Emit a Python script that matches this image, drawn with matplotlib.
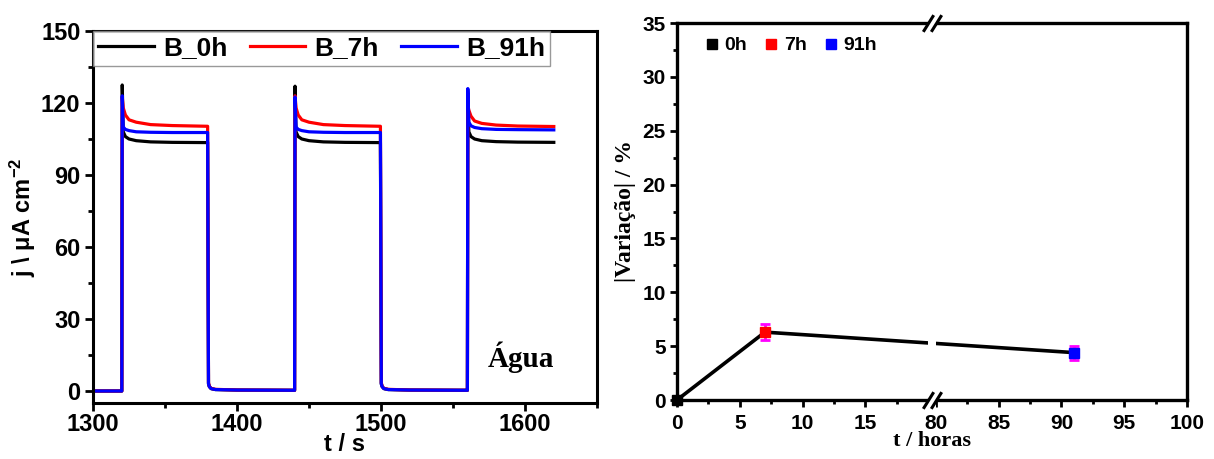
import numpy as np
import matplotlib
matplotlib.use("Agg")
import matplotlib.pyplot as plt
from matplotlib.ticker import MultipleLocator, FixedLocator

plt.rcParams['font.family'] = ['Liberation Sans', 'DejaVu Sans']
plt.rcParams['font.weight'] = 'bold'
plt.rcParams['mathtext.fontset'] = 'custom'
plt.rcParams['mathtext.rm'] = 'Liberation Sans:bold'
plt.rcParams['mathtext.bf'] = 'Liberation Sans:bold'
plt.rcParams['mathtext.default'] = 'bf'

# ---------------- data: left panel (chronoamperometry) ----------------
time_s = [1300, 1319.6, 1320.0, 1320.3, 1321.0, 1322.5, 1325, 1330, 1340, 1355, 1379.6,
          1380.2, 1380.8, 1382, 1385, 1400, 1439.6,
          1440.0, 1440.3, 1441.0, 1442.5, 1445, 1450, 1460, 1475, 1499.6,
          1500.2, 1500.8, 1502, 1505, 1520, 1559.6,
          1560.0, 1560.3, 1561.0, 1562.5, 1565, 1570, 1580, 1595, 1620]
j_B_0h = [0.0, 0.0, 0.0, 127.5, 108, 106, 105, 104.3, 103.8, 103.6, 103.5,
          3.0, 1.8, 1.0, 0.6, 0.4, 0.3,
          0.3, 127, 108, 106, 105, 104.3, 103.8, 103.6, 103.5,
          3.0, 1.8, 1.0, 0.6, 0.4, 0.3,
          0.3, 123, 108, 106, 105, 104.3, 103.9, 103.7, 103.6]
j_B_7h = [0.0, 0.0, 0.0, 122.5, 118, 115, 113, 112, 111, 110.6, 110.3,
          3.5, 2.0, 1.1, 0.7, 0.4, 0.3,
          0.3, 123, 118, 115, 113, 112, 111, 110.6, 110.3,
          3.5, 2.0, 1.1, 0.7, 0.4, 0.3,
          0.3, 119, 117, 114.5, 112.5, 111.5, 110.8, 110.4, 110.2]
j_B_91h = [0.0, 0.0, 0.0, 123, 110, 109, 108.5, 108.0, 107.8, 107.7, 107.7,
           3.0, 1.8, 1.0, 0.6, 0.4, 0.3,
           0.3, 122.5, 110, 109, 108.5, 108.0, 107.8, 107.7, 107.7,
           3.0, 1.8, 1.0, 0.6, 0.4, 0.3,
           0.3, 126, 112, 110.5, 109.8, 109.3, 109.0, 108.9, 108.8]
series_labels = ['B_0h', 'B_7h', 'B_91h']
series_colors = ['black', 'red', 'blue']

# ---------------- data: right panel ----------------
hours = [0, 7, 91]
variation = [0.0, 6.3, 4.4]
variation_err = [0.0, 0.75, 0.65]
point_labels = ['0h', '7h', '91h']
point_colors = ['black', 'red', 'blue']

SERIF = ['Liberation Serif', 'DejaVu Serif']

fig = plt.figure(figsize=(12.14, 4.59), dpi=100)

# ================= left panel =================
ax1 = fig.add_axes([93/1214, 1-403/459, 504/1214, 372/459])
for y, lab, c in zip([j_B_0h, j_B_7h, j_B_91h], series_labels, series_colors):
    ax1.plot(time_s, y, color=c, lw=2.3, label=lab, solid_joinstyle='round')
ax1.set_xlim(1300, 1650)
ax1.set_ylim(-5, 150)
ax1.xaxis.set_major_locator(MultipleLocator(100))
ax1.xaxis.set_minor_locator(MultipleLocator(50))
ax1.yaxis.set_major_locator(MultipleLocator(30))
ax1.yaxis.set_minor_locator(MultipleLocator(15))
ax1.tick_params(which='major', direction='out', length=6, width=2, labelsize=17, pad=3)
ax1.tick_params(axis='x', which='major', pad=1)
ax1.tick_params(which='minor', direction='out', length=3.5, width=2)
for sp in ax1.spines.values():
    sp.set_linewidth(2.2)
for t in ax1.get_xticklabels() + ax1.get_yticklabels():
    t.set_fontweight('bold')
ax1.set_xlabel('t / s', fontsize=17, fontweight='bold', labelpad=-2)
ax1.set_ylabel('j \\ μA cm$^{-2}$', fontsize=17, fontweight='bold', labelpad=2)
leg = ax1.legend(loc='upper left', bbox_to_anchor=(0, 1), ncol=3, frameon=True,
                 fancybox=False, edgecolor='gray', fontsize=19, handlelength=2.1,
                 columnspacing=0.85, handletextpad=0.35, borderaxespad=0.0,
                 borderpad=0.2)
leg.get_frame().set_linewidth(1.0)
for t in leg.get_texts():
    t.set_fontweight('bold')
ax1.text(1597, 14, 'Água', fontsize=21, fontweight='bold', ha='center', va='center',
         family=SERIF)

# ================= right panel =================
GAP = 0.6


def fwd(x):
    x = np.asarray(x, dtype=float)
    return np.where(x <= 20, x, np.where(x >= 80, x - 60 + GAP, 20 + (x - 20) * GAP / 60))


def inv(u):
    u = np.asarray(u, dtype=float)
    return np.where(u <= 20, u, np.where(u >= 20 + GAP, u + 60 - GAP, 20 + (u - 20) * 60 / GAP))


ax2 = fig.add_axes([677/1214, 1-400/459, 510/1214, 377/459])
ax2.set_xscale('function', functions=(fwd, inv))
ax2.set_xlim(0, 100)
ax2.set_ylim(0, 35)
ax2.plot(hours, variation, color='black', lw=2.6, zorder=3, clip_on=False)
for h, v, e, c, lab in zip(hours, variation, variation_err, point_colors, point_labels):
    ax2.errorbar([h], [v], yerr=[e], fmt='none', ecolor='magenta', elinewidth=2,
                 capsize=3.5, capthick=2, zorder=3.5)
    ax2.plot([h], [v], ls='none', marker='s', ms=7.5, color=c, label=lab, zorder=4,
             clip_on=False)
ax2.xaxis.set_major_locator(FixedLocator([0, 5, 10, 15, 80, 85, 90, 95, 100]))
ax2.xaxis.set_minor_locator(FixedLocator([2.5, 7.5, 12.5, 17.5, 82.5, 87.5, 92.5, 97.5]))
ax2.yaxis.set_major_locator(MultipleLocator(5))
ax2.yaxis.set_minor_locator(MultipleLocator(2.5))
ax2.tick_params(which='major', direction='out', length=5, width=2, labelsize=15, pad=3)
ax2.tick_params(axis='x', which='major', pad=5)
ax2.tick_params(which='minor', direction='out', length=3, width=2)
for sp in ax2.spines.values():
    sp.set_linewidth(2.4)
for t in ax2.get_xticklabels() + ax2.get_yticklabels():
    t.set_fontweight('bold')
ax2.set_xlabel('t / horas', fontsize=16, fontweight='bold', labelpad=-1, family=SERIF)
ax2.set_ylabel('|Variação| / %', fontsize=17, fontweight='bold', labelpad=5, family=SERIF)
# axis break
span = ax2.axvspan(20, 80, ymin=-0.02, ymax=1.02, color='white', zorder=5, lw=0)
span.set_clip_on(False)
for xb in (20, 80):
    for yb in (0, 1):
        ax2.plot([xb], [yb], transform=ax2.get_xaxis_transform(), marker=[(-1, -1.6), (1, 1.6)],
                 ms=12, mew=2.2, color='black', ls='none', clip_on=False, zorder=6)
leg2 = ax2.legend(loc='upper left', bbox_to_anchor=(0.02, 1.01), ncol=3, frameon=False,
                  fontsize=14, handlelength=0.7, handletextpad=0.3, columnspacing=0.9,
                  markerscale=0.9)
for t in leg2.get_texts():
    t.set_fontweight('bold')

fig.savefig('out.png', dpi=100)
